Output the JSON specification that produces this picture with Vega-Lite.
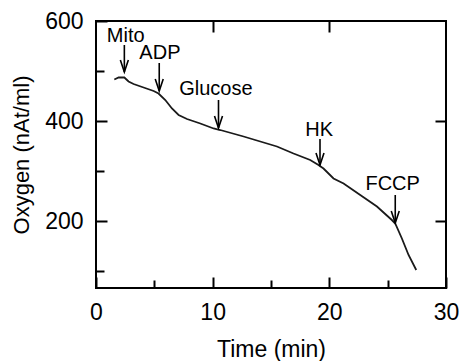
{
  "$schema": "https://vega.github.io/schema/vega-lite/v6.json",
  "autosize": "none",
  "width": 350,
  "height": 267,
  "padding": {"left": 96, "top": 21, "right": 13, "bottom": 73},
  "background": "white",
  "config": {
    "view": {"stroke": "black", "strokeWidth": 2},
    "font": "Liberation Sans",
    "axis": {"grid": false, "domain": false, "tickColor": "black", "tickWidth": 2, "labelColor": "black", "titleColor": "black", "labelFont": "Liberation Sans", "titleFont": "Liberation Sans", "titleFontWeight": "normal"}
  },
  "datasets": {
    "curve": [
      {"t": 1.57, "v": 483}, {"t": 1.94, "v": 487}, {"t": 2.43, "v": 487}, {"t": 2.79, "v": 479},
      {"t": 3.22, "v": 474}, {"t": 4.08, "v": 467}, {"t": 4.94, "v": 460}, {"t": 5.36, "v": 455},
      {"t": 5.94, "v": 442}, {"t": 6.51, "v": 425}, {"t": 7.08, "v": 412}, {"t": 7.8, "v": 404},
      {"t": 8.94, "v": 395}, {"t": 10.08, "v": 385}, {"t": 10.65, "v": 382}, {"t": 12.65, "v": 369},
      {"t": 14.08, "v": 359}, {"t": 15.51, "v": 349}, {"t": 16.93, "v": 335}, {"t": 18.36, "v": 322},
      {"t": 19.07, "v": 312}, {"t": 19.5, "v": 305}, {"t": 20.36, "v": 285}, {"t": 21.22, "v": 275},
      {"t": 22.65, "v": 252}, {"t": 24.08, "v": 229}, {"t": 25.36, "v": 202}, {"t": 25.65, "v": 195},
      {"t": 26.22, "v": 165}, {"t": 26.79, "v": 132}, {"t": 27.45, "v": 102}
    ],
    "notes": [
      {"label": "Mito", "tx": 2.55, "ty": 570, "ax": 2.43, "atop": 552, "atip": 498},
      {"label": "ADP", "tx": 5.48, "ty": 536, "ax": 5.42, "atop": 516, "atip": 460},
      {"label": "Glucose", "tx": 10.27, "ty": 464, "ax": 10.5, "atop": 442, "atip": 386},
      {"label": "HK", "tx": 19.13, "ty": 382, "ax": 19.2, "atop": 364, "atip": 312},
      {"label": "FCCP", "tx": 25.43, "ty": 274, "ax": 25.65, "atop": 252, "atip": 196}
    ]
  },
  "resolve": {"axis": {"x": "independent", "y": "independent"}},
  "layer": [
    {
      "data": {"name": "curve"},
      "mark": {"type": "line", "color": "#1a1a1a", "strokeWidth": 1.8},
      "encoding": {
        "x": {"field": "t", "type": "quantitative", "scale": {"domain": [0, 30], "nice": false, "zero": false},
          "axis": {"orient": "bottom", "values": [0, 10, 20, 30], "tickSize": -11, "labelPadding": 35.5, "labelBaseline": "middle", "labelFontSize": 23, "title": "Time (min)", "titleFontSize": 23, "titleX": 175, "titleY": 61, "titleBaseline": "middle", "titleAlign": "center", "labelFlush": false}},
        "y": {"field": "v", "type": "quantitative", "scale": {"domain": [66, 600], "nice": false, "zero": false},
          "axis": {"orient": "left", "values": [200, 400, 600], "tickSize": -11, "labelPadding": 24, "labelFontSize": 23, "labelBaseline": "middle", "title": "Oxygen (nAt/ml)", "titleFontSize": 22, "titleX": -75, "titleY": 133.5, "titleAngle": -90, "titleBaseline": "middle", "titleAlign": "center", "labelFlush": false}}
      }
    },
    {
      "data": {"name": "notes"},
      "mark": {"type": "rule", "color": "black", "strokeWidth": 1.6},
      "encoding": {
        "x": {"field": "ax", "type": "quantitative",
          "axis": {"orient": "bottom", "values": [5, 15, 25], "tickSize": -8, "labels": false, "title": null}},
        "y": {"field": "atop", "type": "quantitative",
          "axis": {"orient": "left", "values": [100, 300, 500], "tickSize": -8, "labels": false, "title": null}},
        "y2": {"field": "atip"}
      }
    },
    {
      "data": {"name": "notes"},
      "mark": {"type": "point", "shape": "M-1,-3L0,0L1,-3", "size": 64, "filled": false, "stroke": "black", "strokeWidth": 1.6, "opacity": 1},
      "encoding": {
        "x": {"field": "ax", "type": "quantitative",
          "axis": {"orient": "top", "values": [10, 20], "tickSize": -11, "labels": false, "title": null}},
        "y": {"field": "atip", "type": "quantitative",
          "axis": {"orient": "right", "values": [200, 400], "tickSize": -11, "labels": false, "title": null}}
      }
    },
    {
      "data": {"name": "notes"},
      "mark": {"type": "text", "fontSize": 20, "color": "black", "align": "center", "baseline": "middle", "font": "Liberation Sans"},
      "encoding": {
        "x": {"field": "tx", "type": "quantitative", "axis": null},
        "y": {"field": "ty", "type": "quantitative", "axis": null},
        "text": {"field": "label"}
      }
    }
  ]
}
